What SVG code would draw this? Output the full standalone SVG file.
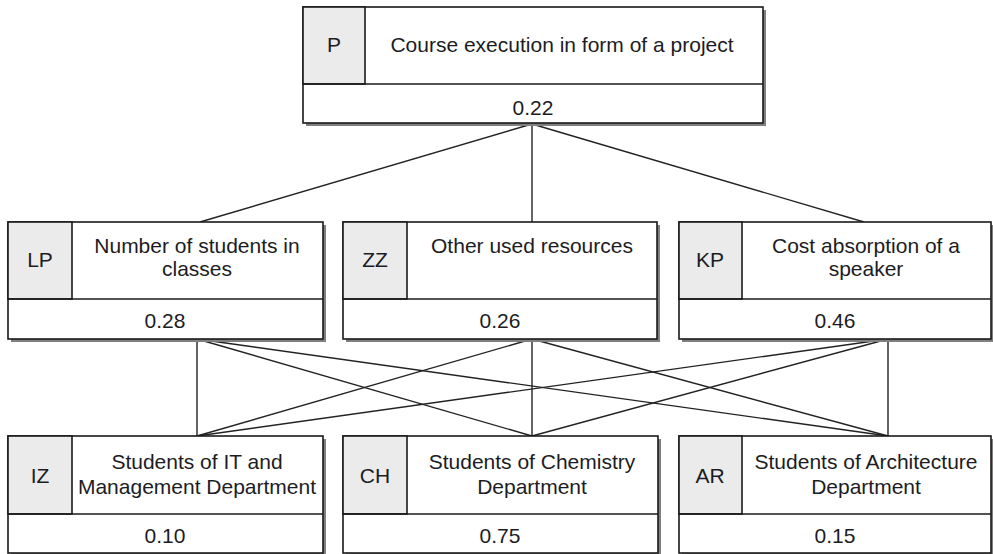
<svg xmlns="http://www.w3.org/2000/svg" width="993" height="554" viewBox="0 0 993 554">
  <style>
    .shadow { fill: #808080; }
    .box { fill: #ffffff; stroke: #1a1a1a; stroke-width: 1.6; }
    .tab { fill: #ebebeb; stroke: #1a1a1a; stroke-width: 1.6; }
    .sep { stroke: #1a1a1a; stroke-width: 1.6; fill: none; }
    .t { font-family: "Liberation Sans", Arial, sans-serif; font-size: 21px; fill: #1c1c24; text-anchor: middle; }
    .links line { stroke: #222222; stroke-width: 1.4; }
  </style>

  <g class="links" id="connectors">
    <line x1="532" y1="124" x2="200" y2="222"/>
    <line x1="532" y1="124" x2="532" y2="222"/>
    <line x1="532" y1="124" x2="864" y2="222"/>

    <line x1="197" y1="339" x2="197" y2="436"/>
    <line x1="197" y1="339" x2="532" y2="436"/>
    <line x1="197" y1="339" x2="888" y2="436"/>
    <line x1="532" y1="339" x2="197" y2="436"/>
    <line x1="532" y1="339" x2="532" y2="436"/>
    <line x1="532" y1="339" x2="888" y2="436"/>
    <line x1="888" y1="339" x2="197" y2="436"/>
    <line x1="888" y1="339" x2="532" y2="436"/>
    <line x1="888" y1="339" x2="888" y2="436"/>
  </g>

  <!-- goal -->
  <g id="node-P">
    <rect class="shadow" x="306" y="10" width="460" height="116"/>
    <rect class="box" x="303" y="7" width="460" height="116"/>
    <rect class="tab" x="303" y="7" width="62" height="77"/>
    <line class="sep" x1="303" y1="84" x2="763" y2="84"/>
    <text class="t" x="334" y="52">P</text>
    <text class="t" x="562" y="52">Course execution in form of a project</text>
    <text class="t" x="533" y="115">0.22</text>
  </g>

  <!-- criteria -->
  <g id="node-LP">
    <rect class="shadow" x="11" y="225" width="315" height="117"/>
    <rect class="box" x="8" y="222" width="315" height="117"/>
    <rect class="tab" x="8" y="222" width="64" height="77"/>
    <line class="sep" x1="8" y1="299" x2="323" y2="299"/>
    <text class="t" x="40" y="267">LP</text>
    <text class="t" x="197" y="253">Number of students in</text>
    <text class="t" x="197" y="276">classes</text>
    <text class="t" x="165" y="328">0.28</text>
  </g>

  <g id="node-ZZ">
    <rect class="shadow" x="346" y="225" width="314" height="117"/>
    <rect class="box" x="343" y="222" width="314" height="117"/>
    <rect class="tab" x="343" y="222" width="64" height="77"/>
    <line class="sep" x1="343" y1="299" x2="657" y2="299"/>
    <text class="t" x="375" y="267">ZZ</text>
    <text class="t" x="532" y="253">Other used resources</text>
    <text class="t" x="500" y="328">0.26</text>
  </g>

  <g id="node-KP">
    <rect class="shadow" x="682" y="225" width="313" height="117"/>
    <rect class="box" x="679" y="222" width="312" height="117"/>
    <rect class="tab" x="679" y="222" width="63" height="77"/>
    <line class="sep" x1="679" y1="299" x2="991" y2="299"/>
    <text class="t" x="710" y="267">KP</text>
    <text class="t" x="866" y="253">Cost absorption of a</text>
    <text class="t" x="866" y="276">speaker</text>
    <text class="t" x="835" y="328">0.46</text>
  </g>

  <!-- alternatives -->
  <g id="node-IZ">
    <rect class="shadow" x="11" y="439" width="315" height="117"/>
    <rect class="box" x="8" y="436" width="315" height="117"/>
    <rect class="tab" x="8" y="436" width="64" height="78"/>
    <line class="sep" x1="8" y1="514" x2="323" y2="514"/>
    <text class="t" x="40" y="483">IZ</text>
    <text class="t" x="197" y="469">Students of IT and</text>
    <text class="t" x="197" y="494">Management Department</text>
    <text class="t" x="165" y="543">0.10</text>
  </g>

  <g id="node-CH">
    <rect class="shadow" x="346" y="439" width="315" height="117"/>
    <rect class="box" x="343" y="436" width="315" height="117"/>
    <rect class="tab" x="343" y="436" width="64" height="78"/>
    <line class="sep" x1="343" y1="514" x2="658" y2="514"/>
    <text class="t" x="375" y="483">CH</text>
    <text class="t" x="532" y="469">Students of Chemistry</text>
    <text class="t" x="532" y="494">Department</text>
    <text class="t" x="500" y="543">0.75</text>
  </g>

  <g id="node-AR">
    <rect class="shadow" x="682" y="439" width="313" height="117"/>
    <rect class="box" x="679" y="436" width="312" height="117"/>
    <rect class="tab" x="679" y="436" width="63" height="78"/>
    <line class="sep" x1="679" y1="514" x2="991" y2="514"/>
    <text class="t" x="710" y="483">AR</text>
    <text class="t" x="866" y="469">Students of Architecture</text>
    <text class="t" x="866" y="494">Department</text>
    <text class="t" x="835" y="543">0.15</text>
  </g>
</svg>
